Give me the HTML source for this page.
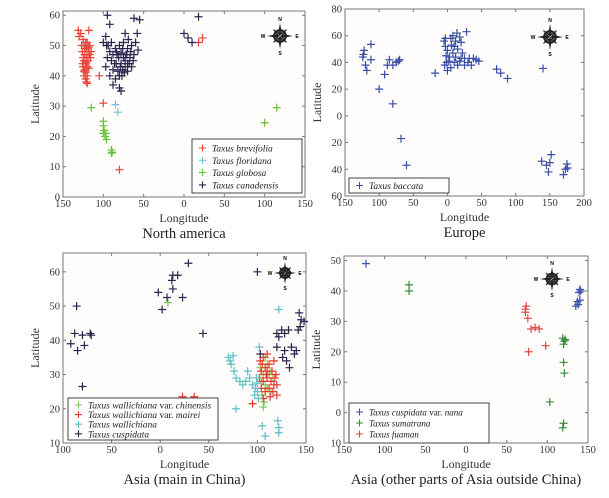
<!DOCTYPE html>
<html><head><meta charset="utf-8"><style>
html,body{margin:0;padding:0;background:#fff;}
svg{display:block;font-family:"Liberation Serif",serif;}
</style></head><body>
<svg id="chart" width="609" height="498" viewBox="0 0 609 498" xmlns="http://www.w3.org/2000/svg"></svg>
<script>
// ===== Data: [longitude (west negative), latitude] =====
const naBrevifolia=[[-131,55],[-128,54],[-130,53],[-125,52],[-122,51],[-118,55],[-124,50],[-121,49],[-126,48],[-119,48],[-123,47],[-117,47],[-125,46],[-121,46],[-124,45],[-119,45],[-122,44],[-125,43],[-120,43],[-123,42],[-118,42.5],[-122,41],[-124,40],[-120,40],[-122,39],[-121,38],[-120,37.5],[-123,49],[-120,51],[-117,50],[-115,48],[-116,46],[-126,44],[-119,47],[-121,44.5],[-124,41.5],[-118,49.5],[-127,50],[-105,40],[-100,31],[-80,9],[18,51],[23,52.5]];
const naFloridana=[[-85,30.5],[-82,28]];
const naGlobosa=[[-100,25],[-100,23.5],[-99,22],[-100,21],[-97,21],[-98,20],[-96,19],[-90,15.5],[-89,14.8],[-90,14.5],[-115,29.5],[100,24.5],[115,29.5]];
const naCanadensis=[[-95,60],[-92,57],[-62,59],[-55,58.5],[-73,54],[-58,54],[-97,53],[-100,51],[-96,50],[-90,51],[-85,49],[-80,50],[-75,51],[-70,49],[-65,50],[-60,51],[-92,48],[-88,47],[-83,47],[-78,47.5],[-72,47],[-67,46],[-62,47],[-57,48.5],[-95,46],[-90,45],[-84,44],[-78,44],[-73,45],[-68,44],[-63,45],[-97,43],[-88,42],[-82,41.5],[-76,42],[-70,41.5],[-65,43],[-92,40],[-85,39],[-80,40],[-74,41],[-88,37],[-80,36],[-78,35],[-86,44],[-76,49],[-69,52],[-94,50],[-81,46],[-75,46],[-70,44],[-66,48],[-79,43],[-73,43],[-84,48],[-71,47],[-77,40],[0,54],[5,52.5],[10,51],[18,59.5]];
const euBaccata=[[-122,49],[-123,46],[-124,44],[-118,34],[-112,42],[-112,53.5],[-120,38],[-92,31],[-88,38],[-85,42],[-80,38],[-72,41],[-70,42],[-75,40],[-100,20],[-80,9],[-68,-17],[-60,-37],[-18,32],[-5,56],[-3,52],[0,49],[-2,45],[2,41],[-4,38],[0,34],[5,36],[3,44],[8,47],[10,52],[12,56],[8,60],[14,62],[18,59],[20,55],[15,50],[22,47],[25,43],[18,41],[12,44],[28,63],[30,40],[35,38],[38,43],[42,42],[46,41],[25,38],[15,38],[6,53],[-3,58],[5,58],[10,40],[20,43],[32,43],[-1,40],[72,35],[78,32],[88,28],[140,35.5],[138,-34],[145,-37],[148,-42],[150,-35],[152,-29],[170,-44],[173,-40],[175,-36],[176,-39]];
const asChinensis=[[8,51],[103,32],[106,30],[108,27],[105,24],[107,22],[110,33],[112,30],[114,25],[104,28],[108,35],[116,29],[106,20.5],[110,26],[113,31]];
const asMairei=[[23,23.5],[35,23.5],[95,21.5],[103,34],[106,35],[110,36],[104,31],[108,32],[112,33],[115,31],[102,29],[106,28],[110,29],[114,28],[118,29],[120,27],[104,26],[108,25],[112,26],[116,25],[120,24],[106,23],[113,23.5],[110,31],[117,34],[109,30],[117,27],[105,33],[119,30]];
const asWallichiana=[[70,35],[72,34],[75,35.5],[73,33],[76,31],[78,29],[82,28],[85,27],[88,28],[92,29],[95,27],[98,26],[100,25],[99,29],[101,23],[78,20],[105,15],[108,12],[122,13],[122,14.5],[121,16.5],[122,49],[102,38],[90,31],[100,27.5],[97,24]];
const asCuspidata=[[-92,39],[-88,42],[-85,37],[-86,50],[-80,41.5],[-78,38.5],[-72,42],[-71,41.5],[-80,26.5],[-2,54],[2,49],[7,52.5],[12,57.5],[13,59],[18,59],[13,55],[23,52.5],[29,62.5],[44,42],[100,60],[103,36],[120,38],[122,41],[125,43],[128,37],[130,34],[128,42],[132,43],[135,38],[138,36],[140,37],[142,43],[144,44],[143,48],[145,46],[133,32],[126,35],[148,45.5],[120,42]];
const oaNana=[[-123,49],[135,35],[137,36.5],[138,35.5],[140,40.5],[139,39.5],[141,40],[140,37]];
const oaSumatrana=[[-70,42],[-70,40],[120,22.5],[121,23.5],[119,24.5],[122,24],[120,16.5],[121,13],[103,3.5],[120,-3.5],[119,-5]];
const oaFuaman=[[73,33],[73,34],[74,35],[76,31],[80,27.5],[85,28],[90,27.5],[98,22],[77,20]];

// tick arrays
const naXTicks=[-150,-100,-50,0,50,100,150], naYTicks=[0,10,20,30,40,50,60];
const euXTicks=[-150,-100,-50,0,50,100,150,200], euYTicks=[-60,-40,-20,0,20,40,60,80];
const asXTicks=[-100,-50,0,50,100,150], asYTicks=[10,20,30,40,50,60];
const oaXTicks=[-150,-100,-50,0,50,100,150], oaYTicks=[-10,0,10,20,30,40,50];

const NS="http://www.w3.org/2000/svg";
const svg=document.getElementById('chart');
function mk(tag,attrs,parent){const e=document.createElementNS(NS,tag);for(const k in attrs)e.setAttribute(k,attrs[k]);(parent||svg).appendChild(e);return e;}

function compass(g,cx,cy,s){
  const c=mk('g',{},g);
  
  
  mk('polygon',{points:`${cx},${cy-s} ${cx+s*0.18},${cy} ${cx},${cy+s} ${cx-s*0.18},${cy}`,fill:'#222'},c);
  mk('polygon',{points:`${cx-s},${cy} ${cx},${cy-s*0.18} ${cx+s},${cy} ${cx},${cy+s*0.18}`,fill:'#222'},c);
  mk('circle',{cx:cx,cy:cy,r:s*0.45,fill:'none',stroke:'#222','stroke-width':2},c);
  mk('polygon',{points:`${cx-s*0.5},${cy-s*0.5} ${cx},${cy-s*0.1} ${cx+s*0.5},${cy+s*0.5} ${cx},${cy+s*0.1}`,fill:'#fff',stroke:'#222','stroke-width':1},c);
  mk('polygon',{points:`${cx+s*0.5},${cy-s*0.5} ${cx+s*0.1},${cy} ${cx-s*0.5},${cy+s*0.5} ${cx-s*0.1},${cy}`,fill:'#fff',stroke:'#222','stroke-width':1},c);
  const lab=[['N',cx,cy-s-2],['S',cx,cy+s+6],['W',cx-s-4,cy+2],['E',cx+s+4,cy+2]];
  lab.forEach(l=>{const t=mk('text',{x:l[1],y:l[2],'font-size':5,'font-weight':'bold','text-anchor':'middle','font-family':'Liberation Sans, sans-serif'},c);t.textContent=l[0];});
}

function panel(cfg){
  const g=mk('g',{});
  
  
  const {x0,x1,y0,y1,xmin,xmax,ymin,ymax}=cfg;
  const sx=v=>x0+(v-xmin)/(xmax-xmin)*(x1-x0);
  const sy=v=>y1-(v-ymin)/(ymax-ymin)*(y1-y0);
  const bg=mk('rect',{x:x0,y:y0,width:x1-x0,height:y1-y0,fill:'#fffdfb',stroke:'#777','stroke-width':1},g);
  
  
  cfg.xt.forEach(v=>{const X=sx(v);mk('line',{x1:X,x2:X,y1:y1,y2:y1-3,stroke:'#777'},g);mk('line',{x1:X,x2:X,y1:y0,y2:y0+3,stroke:'#777'},g);
    const t=mk('text',{x:X,y:y1+10,'font-size':10.5,'text-anchor':'middle',fill:'#333'},g);t.textContent=Math.abs(v);
    });
  cfg.yt.forEach(v=>{const Y=sy(v);mk('line',{x1:x0,x2:x0+3,y1:Y,y2:Y,stroke:'#777'},g);mk('line',{x1:x1,x2:x1-3,y1:Y,y2:Y,stroke:'#777'},g);
    const t=mk('text',{x:x0-3,y:Y+3.5,'font-size':10.5,'text-anchor':'end',fill:'#333'},g);t.textContent=Math.abs(v);
    });
  const xl=mk('text',{x:(x0+x1)/2,y:y1+25,'font-size':12,'text-anchor':'middle',fill:'#333'},g);xl.textContent='Longitude';
  
  const yl=mk('text',{x:0,y:0,'font-size':12,'text-anchor':'middle',fill:'#333',transform:`translate(${x0-24},${(y0+y1)/2}) rotate(-90)`},g);yl.textContent='Latitude';
  
  const tt=mk('text',{x:(x0+x1)/2,y:y1+41,'font-size':14.5,'text-anchor':'middle',fill:'#222'},g);tt.textContent=cfg.title;
  
  compass(g,cfg.cx,cfg.cy,cfg.cs);
  cfg.series.forEach(s=>{
    s.data.forEach(p=>{
      const X=sx(p[0]),Y=sy(p[1]);
      const m=mk('path',{d:`M${X-4},${Y}H${X+4}M${X},${Y-4}V${Y+4}`,stroke:s.color,'stroke-width':1.2,fill:'none'},g);
      
      
    });
  });
  const L=cfg.leg;
  const lg=mk('g',{},g);
  
  
  mk('rect',{x:L.x,y:L.y,width:L.w,height:L.h,fill:'#fff',stroke:'#444','stroke-width':1},lg);
  cfg.series.forEach((s,i)=>{
    const Y=L.y+L.top+i*L.dy;
    mk('path',{d:`M${L.x+7},${Y}h7M${L.x+10.5},${Y-3.5}v7`,stroke:s.color,'stroke-width':1.1},lg);
    const t=mk('text',{x:L.x+20,y:Y+3.5,'font-size':L.fs,fill:'#222'},lg);
    
    s.label.forEach(part=>{const ts=mk('tspan',{'font-style':part[1]?'italic':'normal'},t);ts.textContent=part[0];});
  });
}

panel({name:'north-america-panel',x0:63,x1:305,y0:11,y1:197,xmin:-150,xmax:150,ymin:0,ymax:61.4,xt:naXTicks,yt:naYTicks,title:'North america',cx:280,cy:36,cs:13,
  leg:{x:192,y:139,w:110,h:54,top:9,dy:12.3,fs:9.5},
  series:[{key:'brevifolia',color:'#e8443a',data:naBrevifolia,label:[['Taxus brevifolia',1]]},
          {key:'floridana',color:'#6fc3d6',data:naFloridana,label:[['Taxus floridana',1]]},
          {key:'globosa',color:'#6cbf3c',data:naGlobosa,label:[['Taxus globosa',1]]},
          {key:'canadensis',color:'#2b2350',data:naCanadensis,label:[['Taxus canadensis',1]]}]});
panel({name:'europe-panel',x0:345,x1:584,y0:9,y1:196,xmin:-150,xmax:200,ymin:-60,ymax:80,xt:euXTicks,yt:euYTicks,title:'Europe',cx:550,cy:37,cs:13,
  leg:{x:349,y:178,w:100,h:15,top:7.5,dy:12,fs:9.5},
  series:[{key:'baccata',color:'#3a4ea8',data:euBaccata,label:[['Taxus baccata',1]]}]});
panel({name:'asia-china-panel',x0:63,x1:306,y0:253,y1:443,xmin:-100,xmax:150,ymin:10,ymax:65.5,xt:asXTicks,yt:asYTicks,title:'Asia (main in China)',cx:285,cy:273,cs:11,
  leg:{x:68,y:398,w:150,h:42,top:7,dy:9.6,fs:9.5},
  series:[{key:'chinensis',color:'#7fc25a',data:asChinensis,label:[['Taxus wallichiana',1],[' var. ',0],['chinensis',1]]},
          {key:'mairei',color:'#e53a2c',data:asMairei,label:[['Taxus wallichiana',1],[' var. ',0],['mairei',1]]},
          {key:'wallichiana',color:'#5ec0c8',data:asWallichiana,label:[['Taxus wallichiana',1]]},
          {key:'cuspidata',color:'#2b2350',data:asCuspidata,label:[['Taxus cuspidata',1]]}]});
panel({name:'asia-other-panel',x0:344,x1:588,y0:256,y1:443,xmin:-150,xmax:150,ymin:-10,ymax:51.5,xt:oaXTicks,yt:oaYTicks,title:'Asia (other parts of Asia outside China)',cx:552,cy:279,cs:12,
  leg:{x:349,y:403,w:140,h:40,top:9,dy:11,fs:9},
  series:[{key:'nana',color:'#3d52b0',data:oaNana,label:[['Taxus cuspidata',1],[' var. ',0],['nana',1]]},
          {key:'sumatrana',color:'#3c8a3c',data:oaSumatrana,label:[['Taxus sumatrana',1]]},
          {key:'fuaman',color:'#e04848',data:oaFuaman,label:[['Taxus fuaman',1]]}]});
</script>
</body></html>
